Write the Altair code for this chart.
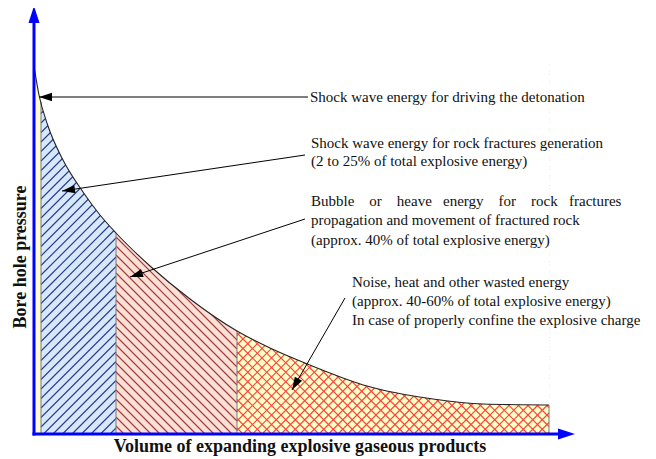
import math
import altair as alt
import numpy as np
import pandas as pd

# ---------------- data ----------------
# expansion curve: volume (x) vs bore hole pressure (y), arbitrary units
volume = [0, 5, 14, 29, 49, 66, 82, 116, 156, 203, 236, 276, 333, 399, 449, 515]
pressure = [368, 339, 308, 274, 242, 219, 201, 168, 135, 103, 86, 69, 48, 35, 30, 29]

# energy regions under the curve
region_names = ["Detonation", "Fracture generation", "Heave", "Wasted"]
region_start = [1.5, 7, 82, 203]
region_end = [7, 82, 203, 515]
region_fill = ["#fffbd2", "#d6e9fb", "#fcdfd5", "#ffffc6"]
region_hatch = ["none", "slash", "backslash", "cross"]
hatch_color = ["#000000", "#2a378e", "#a03a3a", "#ff4040"]
hatch_width = [0, 1.1, 1.1, 1.1]
hatch_spacing = [0, 9.5, 9, 9.5]

NB = "\u00a0"
# annotation texts (left x, middle y)
ann_text = [
    "Shock wave energy for driving the detonation",
    "Shock wave energy for rock fractures generation",
    "(2 to 25% of total explosive energy)",
    "Bubble" + NB * 4 + "or" + NB * 4 + "heave" + NB * 3 + "energy" + NB * 4 + "for" + NB * 4 + "rock" + NB * 3 + "fractures",
    "propagation and movement of fractured rock",
    "(approx. 40% of total explosive energy)",
    "Noise, heat and other wasted energy",
    "(approx. 40-60% of total explosive energy)",
    "In case of properly confine the explosive charge",
]
ann_x = [276, 277, 277, 277, 277, 277, 318, 318, 318]
ann_y = [337, 291, 273, 233, 214, 194, 152, 133, 114]

# annotation arrows: tail -> tip
arrow_x = [274, 271, 271, 311]
arrow_y = [337, 279, 215, 136]
tip_x = [5, 28, 96, 258]
tip_y = [337, 243, 157, 44]

x_title = "Volume of expanding explosive gaseous products"
y_title = "Bore hole pressure"

# ---------------- layout ----------------
W, H = 640, 451
XD = [-26, 614]
YD = [-25, 426]
FILL_TOP = 372
MASK_TOP = 380
Y_AXIS_END = 411
X_AXIS_END = 524

xs = alt.Scale(domain=XD, nice=False, zero=False)
ys = alt.Scale(domain=YD, nice=False, zero=False)
X = lambda f: alt.X(f, type="quantitative", scale=xs, axis=None)
Y = lambda f: alt.Y(f, type="quantitative", scale=ys, axis=None)

curve = pd.DataFrame({"v": volume, "p": pressure, "top": MASK_TOP})

regions = pd.DataFrame({
    "name": region_names, "x": region_start, "x2": region_end,
    "y": 0, "y2": FILL_TOP, "fill": region_fill,
})


def hatch_lines(a, b, top, slope, d):
    segs = []
    if slope > 0:
        ks = np.arange(math.floor(-b / d), math.ceil((top - a) / d) + 1)
        for c in ks * d:
            lo, hi = max(a, -c), min(b, top - c)
            if hi > lo:
                segs.append((lo, lo + c, hi, hi + c))
    else:
        ks = np.arange(math.floor(a / d), math.ceil((top + b) / d) + 1)
        for c in ks * d:
            lo, hi = max(a, c - top), min(b, c)
            if hi > lo:
                segs.append((lo, c - lo, hi, c - hi))
    return segs


rows = []
for a, b, kind, col, wd, d in zip(region_start, region_end, region_hatch, hatch_color,
                                  hatch_width, hatch_spacing):
    dirs = {"slash": [1], "backslash": [-1], "cross": [1, -1]}.get(kind, [])
    for s in dirs:
        for (x1, y1, x2, y2) in hatch_lines(a, b, FILL_TOP, s, d):
            rows.append({"x": x1, "y": y1, "x2": x2, "y2": y2, "c": col, "w": wd})
hatch = pd.DataFrame(rows)

border_x = region_start[1:] + [region_end[-1]]
borders = pd.DataFrame({
    "x": border_x, "y": 0,
    "y2": [float(np.interp(b, volume, pressure)) for b in border_x],
})

axes = pd.DataFrame({
    "x": [0, -1.5], "x2": [0, X_AXIS_END],
    "y": [-1.5, 0], "y2": [Y_AXIS_END, 0],
})
axis_heads = pd.DataFrame({"x": [0, 541], "y": [428, 0], "angle": [270, 0]})

arrows = pd.DataFrame({"x": arrow_x, "y": arrow_y, "x2": tip_x, "y2": tip_y})
arrows["angle"] = [
    math.degrees(math.atan2(-(ty - ay), tx - ax)) % 360
    for ax, ay, tx, ty in zip(arrow_x, arrow_y, tip_x, tip_y)
]

texts = pd.DataFrame({"t": ann_text, "x": ann_x, "y": ann_y})
titles = pd.DataFrame({"t": [x_title, y_title], "x": [266, -13], "y": [-13, 177], "a": [0, 270]})

HEAD = "M0,0L-2,-0.65L-2,0.65Z"
SERIF = "Liberation Serif"

# ---------------- layers ----------------
fills = alt.Chart(regions).mark_rect(strokeWidth=0).encode(
    x=X("x"), x2="x2", y=Y("y"), y2="y2", color=alt.Color("fill:N", scale=None)
)
hatch_l = alt.Chart(hatch).mark_rule().encode(
    x=X("x"), y=Y("y"), x2="x2", y2="y2", color=alt.Color("c:N", scale=None),
    strokeWidth=alt.StrokeWidth("w:Q", scale=None),
)
mask = alt.Chart(curve).mark_area(color="white", interpolate="monotone", opacity=1).encode(
    x=X("v"), y=Y("p"), y2="top"
)
border_l = alt.Chart(borders).mark_rule(color="#7a7a7a", strokeWidth=1).encode(
    x=X("x"), y=Y("y"), y2="y2"
)
curve_l = alt.Chart(curve).mark_line(color="#222222", strokeWidth=1.1, interpolate="monotone").encode(
    x=X("v"), y=Y("p")
)
axes_l = alt.Chart(axes).mark_rule(color="#0000ff", strokeWidth=3).encode(
    x=X("x"), x2="x2", y=Y("y"), y2="y2"
)
axis_head_l = alt.Chart(axis_heads).mark_point(
    shape=HEAD, filled=True, size=289, color="#0000ff", opacity=1
).encode(x=X("x"), y=Y("y"), angle=alt.Angle("angle:Q", scale=None))

arrow_l = alt.Chart(arrows).mark_rule(color="#000000", strokeWidth=1).encode(
    x=X("x"), y=Y("y"), x2="x2", y2="y2"
)
arrow_head_l = alt.Chart(arrows).mark_point(
    shape=HEAD, filled=True, size=169, color="#000000", opacity=1
).encode(x=X("x2"), y=Y("y2"), angle=alt.Angle("angle:Q", scale=None))

text_l = alt.Chart(texts).mark_text(
    align="left", baseline="middle", font=SERIF, fontSize=15, color="#111111"
).encode(x=X("x"), y=Y("y"), text="t:N")

title_l = alt.Chart(titles).mark_text(
    align="center", baseline="middle", font=SERIF, fontSize=18, fontWeight="bold", color="#111111"
).encode(x=X("x"), y=Y("y"), text="t:N", angle=alt.Angle("a:Q", scale=None))

chart = alt.layer(
    fills, hatch_l, mask, border_l, curve_l, axes_l, axis_head_l,
    arrow_l, arrow_head_l, text_l, title_l
).properties(
    width=W, height=H, padding=0,
    autosize=alt.AutoSizeParams(type="none"),
    background="white",
).configure_view(strokeWidth=0)

chart.save("out.html", embed_options={"renderer": "svg", "actions": False})
